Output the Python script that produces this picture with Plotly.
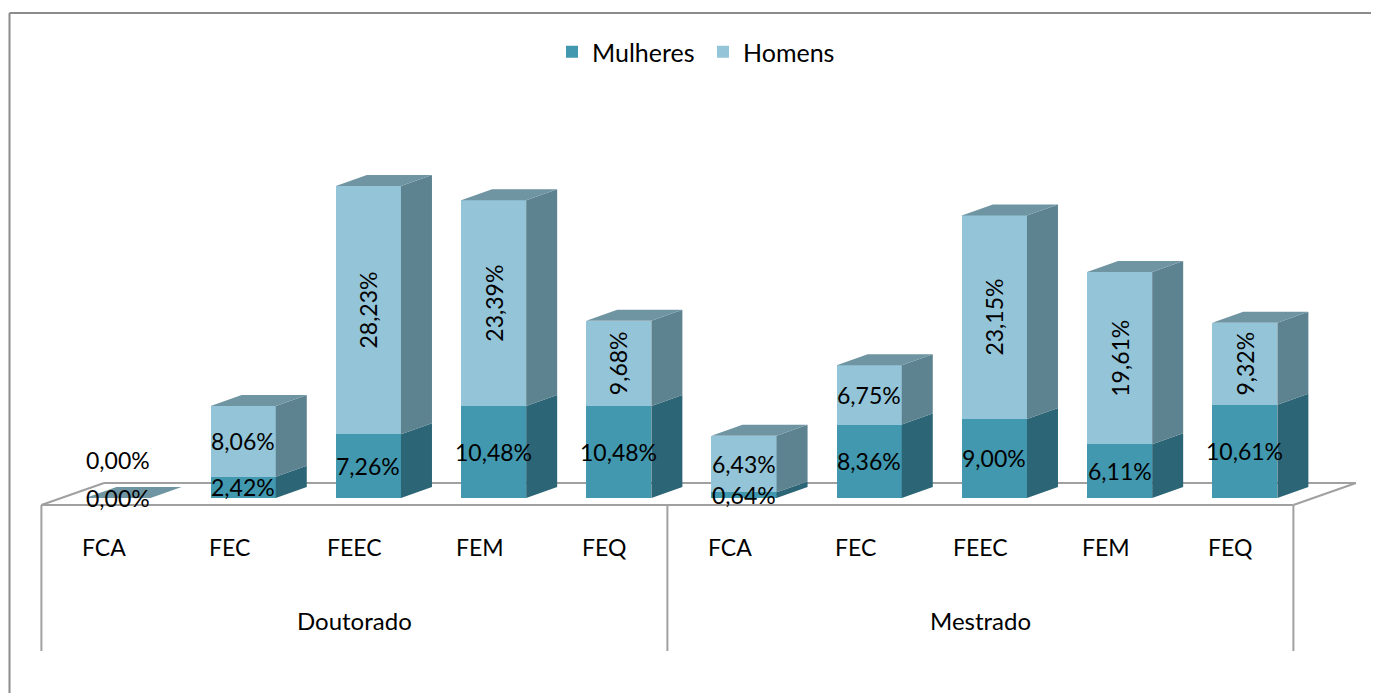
import plotly.graph_objects as go

# ---------------- data ----------------
groups = ["Doutorado", "Mestrado"]
faculties = ["FCA", "FEC", "FEEC", "FEM", "FEQ"]
mulheres = [0.00, 2.42, 7.26, 10.48, 10.48, 0.64, 8.36, 9.00, 6.11, 10.61]
homens = [0.00, 8.06, 28.23, 23.39, 9.68, 6.43, 6.75, 23.15, 19.61, 9.32]

# ---------------- style / geometry ----------------
W, H = 1379, 693
OFF = 8                          # page body margin
FONT = "Lato"
FS = 23
X0_PX, CAT_PX = 104.0 - OFF, 125.2   # pixel of first category, pixels per category
Y0_PX, PCT_PX = 498.0 - OFF, 8.79    # pixel of value 0, pixels per percent

SHIFT = 0.112    # bar front offset from category centre
BW = 0.52        # bar width (category units)
DX, DY = 0.2476, 1.25   # 3-D depth offset (x units, % units)
FLOOR_Y = -0.8
FLOOR_DX, FLOOR_DY = 0.5, 2.5

FRONT_M, SIDE_M = "#4198AF", "#2B6576"
FRONT_H, SIDE_H, TOP_H = "#93C4D7", "#5E8390", "#6F95A2"
GRID = "#A0A0A0"

n = len(mulheres)
idx = list(range(n))
xc = [i + SHIFT for i in idx]
ngrp = len(faculties)

def fmt(v):
    return f"{v:.2f}".replace(".", ",") + "%"

fig = go.Figure()

def side_poly(bottoms, tops):
    xs, ys = [], []
    for i in idx:
        xr = xc[i] + BW / 2
        y0, y1 = bottoms[i], tops[i]
        if y1 <= y0:
            continue
        xs += [xr, xr + DX, xr + DX, xr, xr, None]
        ys += [y0, y0 + DY, y1 + DY, y1, y0, None]
    return xs, ys

zeros = [0.0] * n
tot_m = mulheres
tot = [m + h for m, h in zip(mulheres, homens)]

sx, sy = side_poly(zeros, tot_m)
fig.add_trace(go.Scatter(x=sx, y=sy, fill="toself", fillcolor=SIDE_M, mode="lines",
                         line=dict(width=0, color=SIDE_M), hoverinfo="skip", showlegend=False))
sx, sy = side_poly(tot_m, tot)
fig.add_trace(go.Scatter(x=sx, y=sy, fill="toself", fillcolor=SIDE_H, mode="lines",
                         line=dict(width=0, color=SIDE_H), hoverinfo="skip", showlegend=False))

# top faces
tx, ty = [], []
for i in idx:
    xl, xr, t = xc[i] - BW / 2, xc[i] + BW / 2, tot[i]
    tx += [xl, xl + DX, xr + DX, xr, xl, None]
    ty += [t, t + DY, t + DY, t, t, None]
fig.add_trace(go.Scatter(x=tx, y=ty, fill="toself", fillcolor=TOP_H, mode="lines",
                         line=dict(width=0, color=TOP_H), hoverinfo="skip", showlegend=False))

# front faces
fig.add_trace(go.Bar(x=xc, y=mulheres, width=BW, name="Mulheres",
                     marker=dict(color=FRONT_M, line=dict(width=0)), hoverinfo="skip"))
fig.add_trace(go.Bar(x=xc, y=homens, width=BW, name="Homens",
                     marker=dict(color=FRONT_H, line=dict(width=0)), hoverinfo="skip"))

ann = []
for i in idx:
    m, h = mulheres[i], homens[i]
    ann.append(dict(x=xc[i], y=m / 2, text=fmt(m), showarrow=False,
                    font=dict(family=FONT, size=FS, color="black")))
    yh = m + h / 2 if h > 0 else m + 4.3
    ann.append(dict(x=xc[i], y=yh, text=fmt(h), showarrow=False,
                    textangle=-90 if h > 9 else 0,
                    font=dict(family=FONT, size=FS, color="black")))

# category axis labels
CAT_Y, GRP_Y, DIV_BOTTOM = -5.57, -13.9, -17.4
for i in idx:
    ann.append(dict(x=i, y=CAT_Y, text=faculties[i % ngrp], showarrow=False,
                    font=dict(family=FONT, size=FS, color="black")))
for g, name in enumerate(groups):
    ann.append(dict(x=g * ngrp + (ngrp - 1) / 2, y=GRP_Y, text=name, showarrow=False,
                    font=dict(family=FONT, size=FS + 1, color="black")))

shapes = []
# floor outline (behind the bars)
x_lo, x_hi = -0.5, n - 0.5
floor_pts = [(x_lo, FLOOR_Y), (x_lo + FLOOR_DX, FLOOR_Y + FLOOR_DY),
             (x_hi + FLOOR_DX, FLOOR_Y + FLOOR_DY), (x_hi, FLOOR_Y), (x_lo, FLOOR_Y)]
for (xa, ya), (xb, yb) in zip(floor_pts[:-1], floor_pts[1:]):
    shapes.append(dict(type="line", xref="x", yref="y", x0=xa, x1=xb, y0=ya, y1=yb,
                       layer="below", line=dict(color=GRID, width=2)))
for g in range(len(groups) + 1):
    xv = g * ngrp - 0.5
    shapes.append(dict(type="line", xref="x", yref="y", x0=xv, x1=xv, y0=FLOOR_Y, y1=DIV_BOTTOM,
                       layer="below", line=dict(color=GRID, width=2)))

# outer chart border
bx = (9.5 - OFF) / W
by = 1 - (13 - OFF) / H
shapes.append(dict(type="line", xref="paper", yref="paper", x0=bx, x1=bx,
                   y0=0, y1=by, line=dict(color="#8C8C8C", width=2)))
shapes.append(dict(type="line", xref="paper", yref="paper", x0=bx, x1=1,
                   y0=by, y1=by, line=dict(color="#8C8C8C", width=2)))

fig.update_layout(
    width=W, height=H,
    margin=dict(l=0, r=0, t=0, b=0),
    paper_bgcolor="white", plot_bgcolor="white",
    barmode="stack",
    showlegend=True,
    legend=dict(orientation="h", x=(703 - OFF) / W, xanchor="center", y=1 - (52 - OFF) / H,
                yanchor="middle", traceorder="normal",
                font=dict(family=FONT, size=FS + 2, color="black"),
                bgcolor="rgba(0,0,0,0)", itemwidth=30, entrywidth=106),
    xaxis=dict(range=[-X0_PX / CAT_PX, (W - X0_PX) / CAT_PX], visible=False, fixedrange=True),
    yaxis=dict(range=[(Y0_PX - H) / PCT_PX, Y0_PX / PCT_PX], visible=False, fixedrange=True),
    annotations=ann,
    shapes=shapes,
)

fig.write_html("out.html")
